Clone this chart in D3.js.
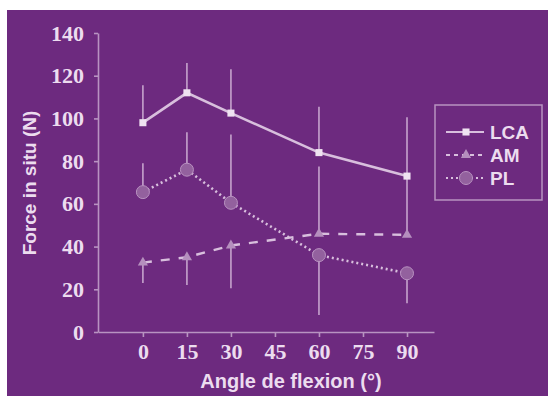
<!DOCTYPE html>
<html>
<head>
<meta charset="utf-8">
<script src="https://cdn.jsdelivr.net/npm/d3@7"></script>
<style>
  body { margin: 0; background: #fff; }
  svg { display: block; }
</style>
</head>
<body>
<svg width="548" height="396"></svg>
<script>
// angles (degrees) and force values
var angles = [0, 15, 30, 60, 90];
var xTicks = [0, 15, 30, 45, 60, 75, 90];
var yTicks = [0, 20, 40, 60, 80, 100, 120, 140];

var lcaMean = [98, 112, 102.5, 84, 73];
var lcaHigh = [115.5, 126, 123, 105.5, 100.5];

var amMean = [32.5, 35, 40.5, 46, 45.5];
var amLow = [23, 22, 20.5, null, null];
var amHigh = [null, null, null, 77.5, 73];

var plMean = [65.5, 76, 60.5, 36, 27.5];
var plLow = [null, null, null, 8, 13.5];
var plHigh = [79, 93.5, 92.5, null, null];

var names = ['LCA', 'AM', 'PL'];

var width = 548, height = 396;
var bg = '#6d2a7f';
var light = '#ecdcef';
var lineCol = '#d8bfdd';

var svg = d3.select('svg');

svg.append('rect')
  .attr('x', 7).attr('y', 10)
  .attr('width', width - 7).attr('height', height - 10)
  .attr('fill', bg);

var x = d3.scaleLinear().domain([-15.3, 99.2]).range([98, 434]);
var y = d3.scaleLinear().domain([0, 140]).range([332, 33]);

// axes
var xAxis = svg.append('g')
  .attr('transform', 'translate(0,332)')
  .call(d3.axisBottom(x).tickValues(xTicks).tickSize(5).tickSizeOuter(0).tickPadding(6));
var yAxis = svg.append('g')
  .attr('transform', 'translate(98,0)')
  .call(d3.axisLeft(y).tickValues(yTicks).tickSize(4).tickSizeOuter(0).tickPadding(10));

[xAxis, yAxis].forEach(function(g) {
  g.select('.domain').attr('stroke', '#b893c1').attr('stroke-width', 1.6);
  g.selectAll('.tick line').attr('stroke', '#b893c1').attr('stroke-width', 1.6);
  g.selectAll('.tick text')
    .attr('fill', light)
    .style('font-family', '"Liberation Serif", serif')
    .style('font-weight', 'bold')
    .style('font-size', '22px');
});

// error bars
var barCol = '#c6a3cd';
function errBars(mean, low, high) {
  angles.forEach(function(a, i) {
    if (high[i] != null) {
      svg.append('line')
        .attr('x1', x(a)).attr('x2', x(a))
        .attr('y1', y(mean[i])).attr('y2', y(high[i]))
        .attr('stroke', barCol).attr('stroke-width', 1.6);
    }
    if (low[i] != null) {
      svg.append('line')
        .attr('x1', x(a)).attr('x2', x(a))
        .attr('y1', y(mean[i])).attr('y2', y(low[i]))
        .attr('stroke', barCol).attr('stroke-width', 1.6);
    }
  });
}
var none = angles.map(function() { return null; });
errBars(lcaMean, none, lcaHigh);
errBars(amMean, amLow, amHigh);
errBars(plMean, plLow, plHigh);

var line = d3.line()
  .x(function(d, i) { return x(angles[i]); })
  .y(function(d) { return y(d); });

svg.append('path').datum(lcaMean)
  .attr('d', line).attr('fill', 'none')
  .attr('stroke', lineCol).attr('stroke-width', 2.6);
svg.append('path').datum(amMean)
  .attr('d', line).attr('fill', 'none')
  .attr('stroke', lineCol).attr('stroke-width', 2.4)
  .attr('stroke-dasharray', '9,9');
svg.append('path').datum(plMean)
  .attr('d', line).attr('fill', 'none')
  .attr('stroke', lineCol).attr('stroke-width', 2.6)
  .attr('stroke-dasharray', '2,3');

// markers
var sq = d3.symbol().type(d3.symbolSquare).size(50);
var tri = d3.symbol().type(d3.symbolTriangle).size(45);

svg.selectAll('.m-lca').data(lcaMean).enter().append('path')
  .attr('class', 'm-lca')
  .attr('d', sq)
  .attr('transform', function(d, i) { return 'translate(' + x(angles[i]) + ',' + y(d) + ')'; })
  .attr('fill', '#efe2f1');

svg.selectAll('.m-am').data(amMean).enter().append('path')
  .attr('class', 'm-am')
  .attr('d', tri)
  .attr('transform', function(d, i) { return 'translate(' + x(angles[i]) + ',' + y(d) + ')'; })
  .attr('fill', '#b58fbe');

svg.selectAll('.m-pl').data(plMean).enter().append('circle')
  .attr('class', 'm-pl')
  .attr('cx', function(d, i) { return x(angles[i]); })
  .attr('cy', function(d) { return y(d); })
  .attr('r', 6.5)
  .attr('fill', '#93619e')
  .attr('stroke', '#b891c0').attr('stroke-width', 1);

// axis titles
svg.append('text')
  .attr('x', 291).attr('y', 388)
  .attr('text-anchor', 'middle')
  .attr('fill', light)
  .style('font-family', '"Liberation Sans", Arial, sans-serif')
  .style('font-weight', 'bold').style('font-size', '20px')
  .text('Angle de flexion (°)');

svg.append('text')
  .attr('transform', 'translate(36,183) rotate(-90)')
  .attr('text-anchor', 'middle')
  .attr('fill', light)
  .style('font-family', '"Liberation Sans", Arial, sans-serif')
  .style('font-weight', 'bold').style('font-size', '19px')
  .text('Force in situ (N)');

// legend
var legend = svg.append('g');
legend.append('rect')
  .attr('x', 435).attr('y', 105)
  .attr('width', 107).attr('height', 95)
  .attr('fill', 'none')
  .attr('stroke', '#b893c1').attr('stroke-width', 1.5);

var legY = [132, 155, 178];
var dash = ['none', '4,4', '2,3'];
legY.forEach(function(ly, i) {
  legend.append('line')
    .attr('x1', 446).attr('x2', 484)
    .attr('y1', ly).attr('y2', ly)
    .attr('stroke', lineCol).attr('stroke-width', 2)
    .attr('stroke-dasharray', dash[i]);
  var mk;
  if (i === 0) {
    mk = legend.append('path').attr('d', sq).attr('fill', '#efe2f1');
  } else if (i === 1) {
    mk = legend.append('path').attr('d', tri).attr('fill', '#b58fbe');
  } else {
    mk = legend.append('circle').attr('r', 6.5).attr('fill', '#93619e')
      .attr('stroke', '#b891c0');
  }
  mk.attr('transform', 'translate(466,' + ly + ')');
  legend.append('text')
    .attr('x', 490).attr('y', ly)
    .attr('dy', '0.36em')
    .attr('fill', light)
    .style('font-family', '"Liberation Sans", Arial, sans-serif')
    .style('font-weight', 'bold').style('font-size', '19px')
    .text(names[i]);
});
</script>
</body>
</html>
